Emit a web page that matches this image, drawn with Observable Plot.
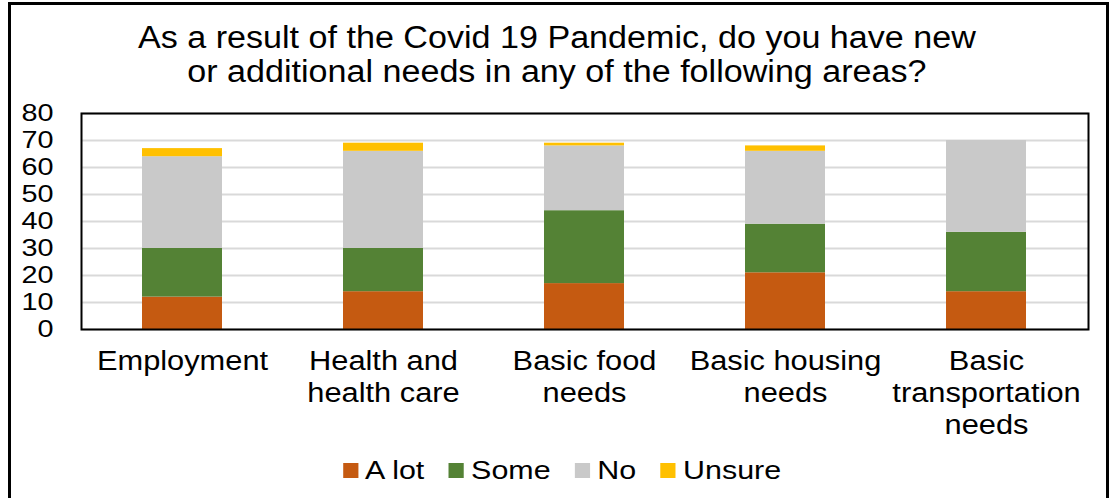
<!DOCTYPE html>
<html>
<head>
<meta charset="utf-8">
<script src="https://cdn.jsdelivr.net/npm/d3@7"></script>
<script src="https://cdn.jsdelivr.net/npm/@observablehq/plot@0.6"></script>
<style>
  html, body { margin: 0; padding: 0; background: #fff; }
  #chart {
    position: relative; width: 1114px; height: 498px; overflow: hidden;
    font-family: "Liberation Sans", Arial, sans-serif; color: #000; background: #fff;
  }
  #border {
    position: absolute; left: 8px; top: 2px; width: 1095px; height: 520px;
    border: 3px solid #000; box-sizing: content-box;
  }
  #title {
    position: absolute; left: 0; top: 21px; width: 1114px; text-align: center;
    font-size: 31px; line-height: 34px;
    transform: scaleX(1.1); transform-origin: 558px 0;
  }
  #plot { position: absolute; left: 0; top: 100px; }
  #legend {
    position: absolute; left: 0; top: 455px; width: 1114px;
    display: flex; justify-content: center; align-items: center; gap: 21px;
    font-size: 26px; line-height: 30px; padding-left: 10px; box-sizing: border-box;
    transform: scaleX(1.17); transform-origin: 562px 0;
  }
  #legend .item { display: flex; align-items: center; gap: 6px; }
  #legend .swatch { width: 13px; height: 15px; display: inline-block; }
</style>
</head>
<body>
<div id="chart">
  <div id="border"></div>
  <div id="title">As a result of the Covid 19 Pandemic, do you have new<br>or additional needs in any of the following areas?</div>
  <div id="plot"></div>
  <div id="legend"></div>
</div>
<script>
// Survey areas (x axis), response series and counts per area
const categories = [
  "Employment",
  "Health and\nhealth care",
  "Basic food\nneeds",
  "Basic housing\nneeds",
  "Basic\ntransportation\nneeds"
];
const series = ["A lot", "Some", "No", "Unsure"];
const aLot   = [12, 14, 17, 21, 14];
const some   = [18, 16, 27, 18, 22];
const no     = [34, 36, 24, 27, 34];
const unsure = [3, 3, 1, 2, 0];
const colors = ["#c55a11", "#548235", "#c9c9c9", "#ffc000"];
const yTicks = [0, 10, 20, 30, 40, 50, 60, 70, 80];

const seriesValues = [aLot, some, no, unsure];
const data = categories.flatMap((category, i) =>
  series.map((s, j) => ({category, series: s, value: seriesValues[j][i]}))
);

const chart = Plot.plot({
  width: 1114,
  height: 350,
  marginLeft: 81,
  marginRight: 26,
  marginTop: 13,
  marginBottom: 121,
  x: {domain: categories, paddingInner: 0.6, paddingOuter: 0.3, label: null},
  y: {domain: [0, 80], label: null},
  color: {domain: series, range: colors},
  style: {fontFamily: "'Liberation Sans', Arial, sans-serif", fontSize: "24px", color: "#000", background: "transparent", overflow: "visible"},
  marks: [
    Plot.gridY(yTicks, {stroke: "#d9d9d9", strokeOpacity: 1, strokeWidth: 2}),
    Plot.barY(data, {x: "category", y: "value", fill: "series", order: series}),
    Plot.frame({stroke: "#000", strokeWidth: 2}),
    Plot.axisY(yTicks, {tickSize: 0, tickPadding: 28, fontSize: 24, label: null}),
    Plot.axisX({tickSize: 0, tickPadding: 18, fontSize: 28, lineHeight: 1.143, label: null})
  ]
});

// Widen axis lettering horizontally around each label's anchor point
function widen(selector, k) {
  d3.select(chart).selectAll(selector).each(function () {
    let base = this.getAttribute("transform") || "";
    const xAttr = this.getAttribute("x");
    if (xAttr !== null && /^-?[\d.]+$/.test(xAttr.trim())) {
      base += ` translate(${xAttr},0)`;
      this.setAttribute("x", 0);
    }
    this.setAttribute("transform", `${base} scale(${k},1)`.trim());
  });
}
widen('g[aria-label="x-axis tick label"] text', 1.1);
widen('g[aria-label="y-axis tick label"] text', 1.2);

document.getElementById("plot").appendChild(chart);

// Legend row under the chart
const legend = document.getElementById("legend");
series.forEach((s, i) => {
  const item = document.createElement("div");
  item.className = "item";
  const sw = document.createElement("span");
  sw.className = "swatch";
  sw.style.background = colors[i];
  const label = document.createElement("span");
  label.textContent = s;
  item.append(sw, label);
  legend.appendChild(item);
});
</script>
</body>
</html>
